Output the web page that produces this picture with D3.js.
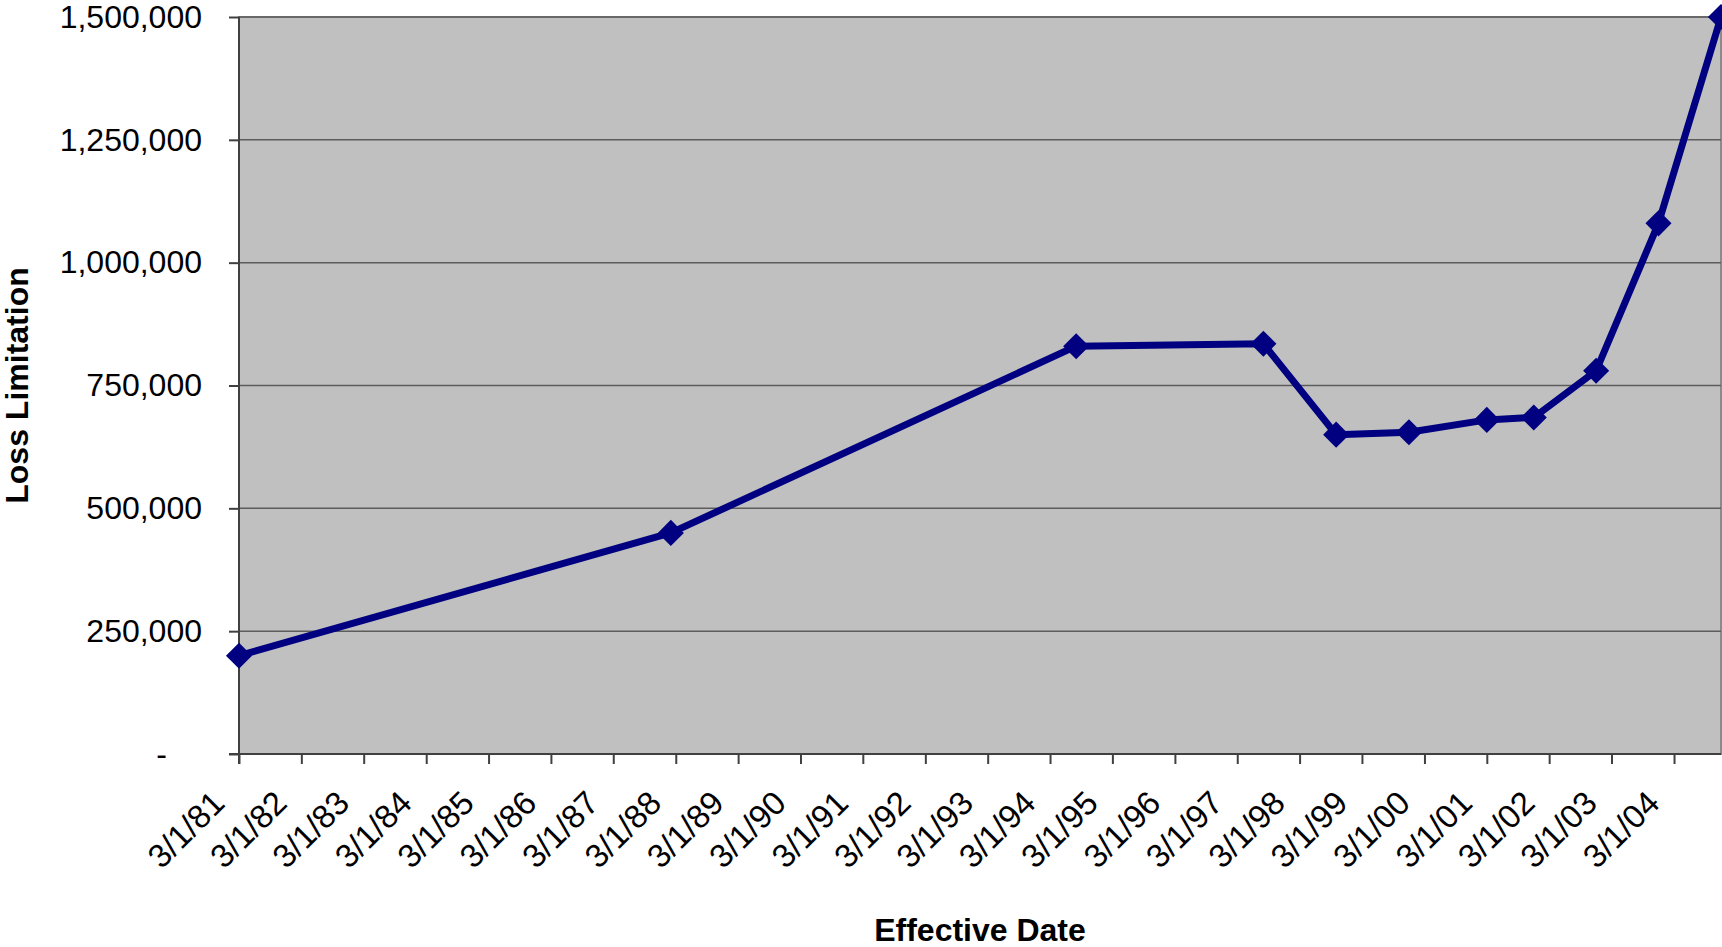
<!DOCTYPE html>
<html>
<head>
<meta charset="utf-8">
<script src="https://cdn.jsdelivr.net/npm/d3@7"></script>
<style>
    body { margin: 0; background: #fff; }
    text { font-family: "Liberation Sans", Arial, sans-serif; fill: #000; }
</style>
</head>
<body>
<div id="chart"></div>
<script>
// data
const effectiveDates = ["3/1/81", "2/1/88", "8/1/94", "8/1/97", "10/1/98", "12/1/99",
                        "3/1/01", "12/1/01", "12/1/02", "12/1/03", "12/1/04"];
const lossLimits = [200000, 450000, 830000, 835000, 650000, 655000,
                    680000, 685000, 780000, 1080000, 1500000];
const dateTickLabels = ["3/1/81", "3/1/82", "3/1/83", "3/1/84", "3/1/85", "3/1/86", "3/1/87",
                        "3/1/88", "3/1/89", "3/1/90", "3/1/91", "3/1/92", "3/1/93", "3/1/94",
                        "3/1/95", "3/1/96", "3/1/97", "3/1/98", "3/1/99", "3/1/00", "3/1/01",
                        "3/1/02", "3/1/03", "3/1/04"];
const valueTicks = [0, 250000, 500000, 750000, 1000000, 1250000, 1500000];

const w = 1722;
const h = 947;
const plotLeft = 239, plotRight = 1721, plotTop = 17, plotBottom = 754;

const parseDate = d3.timeParse("%m/%d/%y");
const points = effectiveDates.map((d, i) => ({date: parseDate(d), value: lossLimits[i]}));

const x = d3.scaleTime()
    .domain([parseDate(effectiveDates[0]), parseDate(effectiveDates[effectiveDates.length - 1])])
    .range([plotLeft, plotRight]);
const y = d3.scaleLinear().domain([0, 1500000]).range([plotBottom, plotTop]);

const svg = d3.select("#chart").append("svg").attr("width", w).attr("height", h);

// plot area
svg.append("rect")
    .attr("x", plotLeft).attr("y", plotTop)
    .attr("width", plotRight - plotLeft).attr("height", plotBottom - plotTop)
    .style("fill", "#c0c0c0")
    .style("stroke", "#8a8a8a")
    .style("stroke-width", 2);

// gridlines
svg.append("g")
    .selectAll("line")
    .data(valueTicks.filter(v => v > 0))
    .enter()
    .append("line")
    .attr("x1", plotLeft).attr("x2", plotRight)
    .attr("y1", d => y(d)).attr("y2", d => y(d))
    .style("stroke", "#5c5c5c")
    .style("stroke-width", 1.5);

// y axis
const yAxis = svg.append("g")
    .attr("transform", `translate(${plotLeft},0)`)
    .call(d3.axisLeft(y)
        .tickValues(valueTicks)
        .tickSize(10)
        .tickSizeOuter(0)
        .tickPadding(27)
        .tickFormat(d => d === 0 ? "-" : d3.format(",")(d)));
yAxis.attr("font-family", null);
yAxis.select(".domain").attr("d", `M0,${plotTop}V${plotBottom + 10}`);
yAxis.selectAll("path, line").style("stroke", "#404040").style("stroke-width", 2);
yAxis.selectAll("text").style("font-size", "32px");
yAxis.selectAll(".tick").filter(d => d === 0).select("text").attr("dx", -35);

// x axis
const xAxis = svg.append("g")
    .attr("transform", `translate(0,${plotBottom})`)
    .call(d3.axisBottom(x)
        .tickValues(dateTickLabels.map(parseDate))
        .tickSize(10)
        .tickSizeOuter(0)
        .tickFormat(d3.timeFormat("%-m/%-d/%y")));
xAxis.attr("font-family", null);
xAxis.select(".domain").attr("d", `M${plotLeft - 10},0H${plotRight}`);
xAxis.selectAll("path, line").style("stroke", "#404040").style("stroke-width", 2);
xAxis.selectAll("text")
    .attr("x", 0).attr("y", 0).attr("dy", 0)
    .attr("transform", "translate(-13,51) rotate(-45)")
    .style("text-anchor", "end")
    .style("font-size", "33px");

// line + markers
const line = d3.line()
    .x(d => x(d.date))
    .y(d => y(d.value));

svg.append("path")
    .datum(points)
    .attr("d", line)
    .style("fill", "none")
    .style("stroke", "#000080")
    .style("stroke-width", 7)
    .style("stroke-linejoin", "round");

svg.append("g")
    .selectAll("path")
    .data(points)
    .enter()
    .append("path")
    .attr("d", d3.symbol(d3.symbolSquare, 340))
    .attr("transform", d => `translate(${x(d.date)},${y(d.value)}) rotate(45)`)
    .style("fill", "#000080");

// axis titles
svg.append("text")
    .text("Loss Limitation")
    .attr("transform", `translate(28,${(plotTop + plotBottom) / 2}) rotate(-90)`)
    .attr("text-anchor", "middle")
    .style("font-weight", "bold")
    .style("font-size", "32px");

svg.append("text")
    .text("Effective Date")
    .attr("x", (plotLeft + plotRight) / 2)
    .attr("y", 941)
    .attr("text-anchor", "middle")
    .style("font-weight", "bold")
    .style("font-size", "32px");
</script>
</body>
</html>
